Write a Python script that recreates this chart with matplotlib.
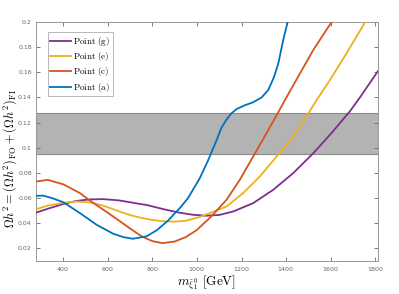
"""
    Relic density vs neutralino mass for benchmark points
"""

import numpy as np
import matplotlib
matplotlib.use('AGG')
import matplotlib.pyplot as plt
from matplotlib.ticker import FuncFormatter

plt.rcParams['mathtext.fontset'] = 'cm'
plt.rcParams['font.serif'] = ['cmr10', 'DejaVu Serif']
plt.rcParams['axes.formatter.use_mathtext'] = True

# values
m_g = [280, 330, 400, 460, 520, 580, 650, 700, 780, 850, 920, 980, 1040, 1100,
       1163, 1252, 1342, 1432, 1522, 1600, 1686, 1731, 1812]
oh_g = [0.0486, 0.0515, 0.0553, 0.0578, 0.0590, 0.0592, 0.0582, 0.0567, 0.0543,
        0.0512, 0.0485, 0.0468, 0.0460, 0.0466, 0.0494, 0.0560, 0.0666, 0.0799,
        0.0957, 0.1110, 0.1290, 0.1400, 0.1610]

m_e = [280, 330, 400, 460, 520, 580, 650, 700, 750, 800, 850, 900, 950, 1013,
       1058, 1133, 1207, 1282, 1357, 1432, 1500, 1537, 1597, 1671, 1753, 1760]
oh_e = [0.0513, 0.0540, 0.0563, 0.0573, 0.0566, 0.0540, 0.0495, 0.0465, 0.0443,
        0.0426, 0.0416, 0.0413, 0.0420, 0.0450, 0.0481, 0.0534, 0.0640, 0.0772,
        0.0930, 0.1089, 0.1275, 0.1380, 0.1540, 0.1751, 0.1995, 0.2010]

m_c = [280, 330, 400, 475, 512, 570, 624, 699, 750, 800, 845, 900, 950, 998,
       1050, 1075, 1133, 1192, 1252, 1312, 1350, 1395, 1454, 1522, 1604, 1610]
oh_c = [0.0732, 0.0745, 0.0710, 0.0640, 0.0590, 0.0520, 0.0454, 0.0360, 0.0298,
        0.0258, 0.0242, 0.0255, 0.0290, 0.0345, 0.0430, 0.0475, 0.0587, 0.0745,
        0.0930, 0.1116, 0.1235, 0.1380, 0.1566, 0.1778, 0.2000, 0.2015]

m_a = [280, 310, 350, 400, 475, 550, 624, 670, 712, 774, 820, 871, 901, 923, 960,
       1013, 1050, 1088, 1110, 1133, 1155, 1178, 1215, 1252, 1290, 1320, 1345,
       1365, 1387, 1407, 1410]
oh_a = [0.0618, 0.0620, 0.0600, 0.0568, 0.0481, 0.0388, 0.0317, 0.0290, 0.0277,
        0.0296, 0.0345, 0.0422, 0.0480, 0.0520, 0.0600, 0.0759, 0.0900, 0.1060,
        0.1160, 0.1225, 0.1275, 0.1308, 0.1338, 0.1362, 0.1400, 0.1460, 0.1560,
        0.1670, 0.1857, 0.2000, 0.2030]

band = (0.095, 0.128)

curves = [
    ('Point (g)', m_g, oh_g, '#7E2F8E'),
    ('Point (e)', m_e, oh_e, '#EDB120'),
    ('Point (c)', m_c, oh_c, '#D95319'),
    ('Point (a)', m_a, oh_a, '#0072BD'),
]


def main():
    fig = plt.figure(figsize=(3.99, 2.94), dpi=100)
    ax = fig.add_axes([0.0902, 0.1122, 0.8571, 0.8130])

    ax.axhspan(band[0], band[1], facecolor='#b3b3b3', edgecolor='#8a8a8a',
               linewidth=0.8, zorder=1)

    for label, m, oh, col in curves:
        name = label.replace(' ', r'\ ')
        ax.plot(m, oh, color=col, linewidth=1.3, zorder=3,
                solid_joinstyle='round', label=r'$\mathrm{' + name + '}$')

    ax.set_xlim(278, 1812)
    ax.set_ylim(0.01, 0.2)
    ax.set_xticks(np.arange(400, 1801, 200))
    ax.set_yticks(np.arange(0.02, 0.201, 0.02))
    ax.yaxis.set_major_formatter(FuncFormatter(lambda v, p: f'{v:g}'))

    ax.tick_params(direction='in', length=3, width=0.6, labelsize=4.5,
                   colors='#666666', top=True, right=True, pad=3)
    for s in ax.spines.values():
        s.set_color('#999999')
        s.set_linewidth(0.7)

    ax.set_ylabel(r'$\Omega h^2 = (\Omega h^2)_{\rm FO} + (\Omega h^2)_{\rm FI}$',
                  fontsize=8.8)
    ax.yaxis.set_label_coords(-0.05, 0.43)
    ax.set_xlabel(r'$m_{\tilde{\xi}_1^0}$ [GeV]', fontsize=9.5, family='serif')
    ax.xaxis.set_label_coords(0.5, -0.05)

    leg = ax.legend(loc='upper left', bbox_to_anchor=(0.034, 0.957),
                    fontsize=6.5, handlelength=2.3, handletextpad=0.2,
                    labelspacing=0.25, borderpad=0.3, borderaxespad=0,
                    frameon=True, fancybox=False)
    leg.get_frame().set_edgecolor('#999999')
    leg.get_frame().set_linewidth(0.6)

    fig.savefig('out.png', dpi=100)


if __name__ == '__main__':
    main()
